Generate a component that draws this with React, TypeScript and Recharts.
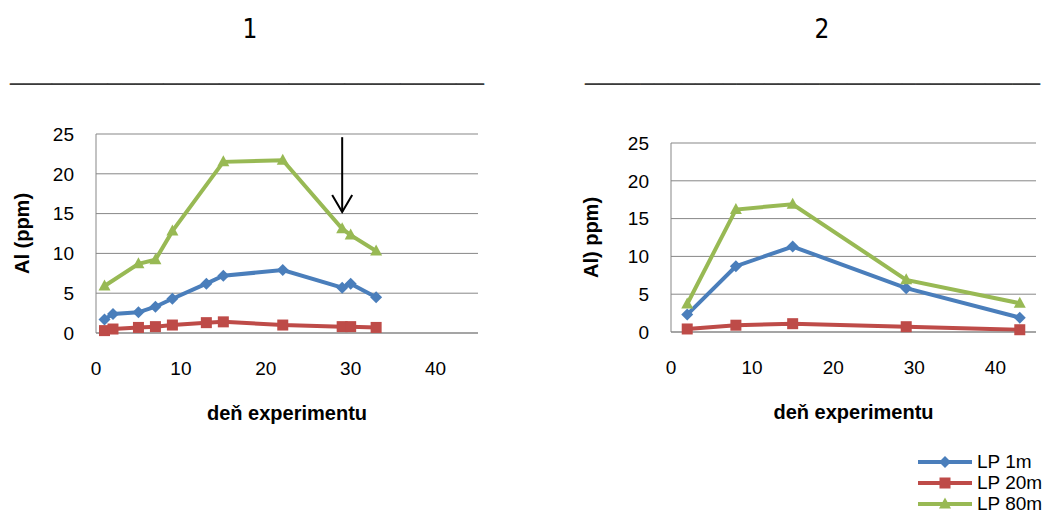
import React from 'react'
import { LineChart, Line, XAxis, YAxis, CartesianGrid, ReferenceLine, Legend } from 'recharts'

// panel 1: sampling days and Al concentrations (ppm)
const days1 = [1, 2, 5, 7, 9, 13, 15, 22, 29, 30, 33]
const lp1m1 = [1.7, 2.4, 2.6, 3.3, 4.3, 6.2, 7.2, 7.9, 5.7, 6.2, 4.5]
const lp20m1 = [0.3, 0.5, 0.7, 0.8, 1.0, 1.3, 1.4, 1.0, 0.8, 0.8, 0.7]
const lp80m1 = [5.9, null, 8.7, 9.2, 12.8, null, 21.5, 21.7, 13.1, 12.3, 10.3]

// panel 2
const days2 = [2, 8, 15, 29, 43]
const lp1m2 = [2.3, 8.7, 11.3, 5.8, 1.9]
const lp20m2 = [0.4, 0.9, 1.1, 0.7, 0.3]
const lp80m2 = [3.7, 16.2, 16.9, 6.9, 3.8]

const seriesNames = ['LP 1m', 'LP 20m', 'LP 80m']
const seriesKeys = ['lp1m', 'lp20m', 'lp80m']
const seriesColors = ['#4A7EBB', '#BE4B48', '#98B954']
const markerKinds = ['diamond', 'square', 'triangle']

const xTicks = [0, 10, 20, 30, 40]
const yTicks = [0, 5, 10, 15, 20, 25]
const panelTitles = ['1', '2']
const xTitle = 'deň experimentu'
const yTitles = ['Al (ppm)', 'Al) ppm)']

// arrow marker in panel 1 (day, ppm)
const arrowFrom = { x: 29, y: 24.6 }
const arrowTo = { x: 29, y: 15.2 }

const FONT = '"Liberation Sans", Arial, sans-serif'
const NARROW = '"Liberation Sans Narrow", "DejaVu Sans Condensed", sans-serif'
const GRID = '#878787'

type Row = { day: number; lp1m: number | null; lp20m: number | null; lp80m: number | null }

const toRows = (days: number[], a: (number | null)[], b: (number | null)[], c: (number | null)[]): Row[] =>
  days.map((d, i) => ({ day: d, lp1m: a[i], lp20m: b[i], lp80m: c[i] }))

const rows1 = toRows(days1, lp1m1, lp20m1, lp80m1)
const rows2 = toRows(days2, lp1m2, lp20m2, lp80m2)

const Marker = ({ kind, cx, cy, color }: { kind: string; cx: number; cy: number; color: string }) => {
  if (kind === 'diamond') {
    return <path d={`M${cx},${cy - 6}L${cx + 6},${cy}L${cx},${cy + 6}L${cx - 6},${cy}Z`} fill={color} />
  }
  if (kind === 'square') {
    return <rect x={cx - 5.5} y={cy - 5.5} width={11} height={11} fill={color} />
  }
  return <path d={`M${cx},${cy - 6.5}L${cx + 6},${cy + 4.5}L${cx - 6},${cy + 4.5}Z`} fill={color} />
}

const dotFor = (kind: string, color: string) => (props: any) => {
  const { cx, cy, index, value } = props
  if (value == null || cx == null || cy == null || Number.isNaN(cy)) return <g key={`e-${index}`} />
  return <Marker key={`m-${index}`} kind={kind} cx={cx} cy={cy} color={color} />
}

const YTitle = (props: any) => {
  const { viewBox, text, dx } = props
  const x = viewBox.x + dx
  const y = viewBox.y + viewBox.height / 2
  return (
    <text x={x} y={y} transform={`rotate(-90 ${x} ${y})`} textAnchor="middle" dominantBaseline="central"
      fontSize={20} fontWeight="bold" fontFamily={FONT} fill="#000">
      {text}
    </text>
  )
}

const XTitle = (props: any) => {
  const { viewBox, text } = props
  return (
    <text x={viewBox.x + viewBox.width / 2} y={viewBox.y + 80} textAnchor="middle" dominantBaseline="central"
      fontSize={20} fontWeight="bold" fontFamily={FONT} fill="#000">
      {text}
    </text>
  )
}

const ArrowShape = (props: any) => {
  const { x1, y1, x2, y2 } = props
  return (
    <g>
      <line x1={x1} y1={y1} x2={x2} y2={y2} stroke="#000" strokeWidth={2} />
      <polyline points={`${x2 - 10},${y2 - 17} ${x2},${y2} ${x2 + 10},${y2 - 17}`} fill="none" stroke="#000" strokeWidth={2} />
    </g>
  )
}

const LegendList = (props: any) => {
  const items = props.payload || []
  return (
    <div style={{ fontFamily: FONT, fontSize: 19, color: '#000' }}>
      {items.map((item: any) => {
        const i = seriesKeys.indexOf(item.dataKey)
        return (
          <div key={item.value} style={{ display: 'flex', alignItems: 'center', height: 21, lineHeight: '21px' }}>
            <svg width={54} height={20} style={{ marginRight: 5 }}>
              <line x1={0} y1={10} x2={54} y2={10} stroke={seriesColors[i]} strokeWidth={4} strokeLinecap="round" />
              <Marker kind={markerKinds[i]} cx={27} cy={10} color={seriesColors[i]} />
            </svg>
            <span>{item.value}</span>
          </div>
        )
      })}
    </div>
  )
}

const renderSeries = (connect: boolean) =>
  seriesKeys.map((key, i) => (
    <Line
      key={key}
      type="linear"
      dataKey={key}
      name={seriesNames[i]}
      stroke={seriesColors[i]}
      strokeWidth={4}
      dot={dotFor(markerKinds[i], seriesColors[i])}
      activeDot={false}
      connectNulls={connect}
      isAnimationActive={false}
    />
  ))

const axisTick = { fill: '#000', fontSize: 19, fontFamily: FONT }

export default function App() {
  return (
    <div style={{ position: 'absolute', left: 0, top: 0, width: 1054, height: 512, background: '#fff', overflow: 'hidden' }}>
      <svg width={1054} height={100} style={{ position: 'absolute', left: 0, top: 0 }}>
        <text x={250} y={38} textAnchor="middle" fontSize={26} fontFamily={NARROW} fill="#000">{panelTitles[0]}</text>
        <text x={822} y={38} textAnchor="middle" fontSize={26} fontFamily={NARROW} fill="#000">{panelTitles[1]}</text>
        <text x={10} y={79} textLength={474} lengthAdjust="spacingAndGlyphs" fontSize={26} fontFamily={NARROW} fill="#3a3a3a">
          {'_'.repeat(34)}
        </text>
        <text x={585} y={79} textLength={455} lengthAdjust="spacingAndGlyphs" fontSize={26} fontFamily={NARROW} fill="#3a3a3a">
          {'_'.repeat(33)}
        </text>
      </svg>

      <div style={{ position: 'absolute', left: 0, top: 0 }}>
        <LineChart width={527} height={440} data={rows1} margin={{ top: 134, right: 49, bottom: 27, left: 46 }}>
          <CartesianGrid vertical={false} stroke={GRID} />
          <XAxis dataKey="day" type="number" domain={[0, 45]} ticks={xTicks} tickLine={false} tickSize={0} tickMargin={29}
            axisLine={{ stroke: GRID }} tick={axisTick} height={80} label={<XTitle text={xTitle} />} />
          <YAxis type="number" domain={[0, 25]} ticks={yTicks} tickLine={false} tickSize={0} tickMargin={22}
            axisLine={{ stroke: GRID }} tick={axisTick} width={50} label={<YTitle text={yTitles[0]} dx={-24} />} />
          {renderSeries(true)}
          <ReferenceLine segment={[arrowFrom, arrowTo]} shape={ArrowShape} />
        </LineChart>
      </div>

      <div style={{ position: 'absolute', left: 527, top: 0 }}>
        <LineChart width={527} height={512} data={rows2} margin={{ top: 143, right: 18, bottom: 100, left: 94 }}>
          <CartesianGrid vertical={false} stroke={GRID} />
          <XAxis dataKey="day" type="number" domain={[0, 45]} ticks={xTicks} tickLine={false} tickSize={0} tickMargin={29}
            axisLine={{ stroke: GRID }} tick={axisTick} height={80} label={<XTitle text={xTitle} />} />
          <YAxis type="number" domain={[0, 25]} ticks={yTicks} tickLine={false} tickSize={0} tickMargin={22}
            axisLine={{ stroke: GRID }} tick={axisTick} width={50} label={<YTitle text={yTitles[1]} dx={-30} />} />
          {renderSeries(false)}
          <Legend layout="horizontal" align="center" verticalAlign="middle"
            wrapperStyle={{ left: 391, top: 451, width: 136 }} content={<LegendList />} />
        </LineChart>
      </div>
    </div>
  )
}
